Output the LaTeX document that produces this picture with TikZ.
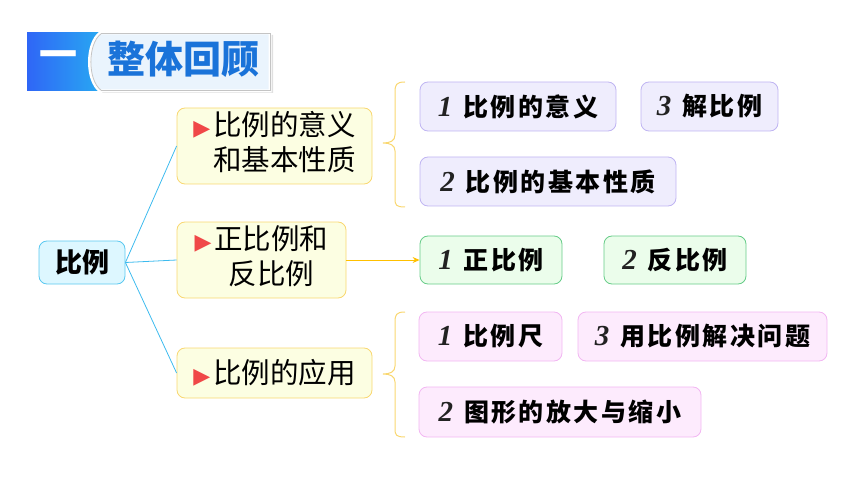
\documentclass[tikz,border=0pt]{standalone}
\usepackage{fontspec}
\newfontfamily\cjk{Noto Sans CJK SC}
\newfontfamily\cjkls[LetterSpace=10]{Noto Sans CJK SC}
\newfontfamily\numfont{Liberation Serif}
\newfontfamily\symfont{DejaVu Sans}
\usetikzlibrary{arrows.meta}
\definecolor{hdrA}{HTML}{2F66F6}
\definecolor{hdrB}{HTML}{28AAF2}
\definecolor{panelfill}{HTML}{EAF4FD}
\definecolor{panelline}{HTML}{C4C4C4}
\definecolor{titleblue}{HTML}{1A73D9}
\definecolor{rootfill}{HTML}{DDF7FF}
\definecolor{rootline}{HTML}{5BC8F0}
\definecolor{yfill}{HTML}{FCFEE2}
\definecolor{yline}{HTML}{F9D770}
\definecolor{linkblue}{HTML}{3DBBEE}
\definecolor{arrowor}{HTML}{FFC000}
\definecolor{pfill}{HTML}{EFEDFD}
\definecolor{pline}{HTML}{BFB4F2}
\definecolor{gfill}{HTML}{EBFDEB}
\definecolor{gline}{HTML}{66CC88}
\definecolor{kfill}{HTML}{FDEBFD}
\definecolor{kline}{HTML}{F2B6F2}
\definecolor{trired}{HTML}{F04848}
\definecolor{numcol}{HTML}{222222}
\newcommand\nm[1]{{\numfont\bfseries\itshape\fontsize{29}{29}\selectfont\color{numcol}#1}\hspace{11pt}}
\newcommand\tri{{\symfont\fontsize{22}{22}\selectfont\color{trired}▶}\hspace{3pt}}
\begin{document}
\begin{tikzpicture}[x=1pt,y=-1pt,
  box/.style={rounded corners=8, line width=0.8, inner sep=0, anchor=center, text=black},
  leaf/.style={box, minimum height=49, font=\cjkls\bfseries\fontsize{25}{25}\selectfont},
  pbox/.style={leaf, fill=pfill, draw=pline},
  gbox/.style={leaf, fill=gfill, draw=gline},
  kbox/.style={leaf, fill=kfill, draw=kline},
  ybox/.style={box, fill=yfill, draw=yline, align=center, font=\cjk\fontsize{28.5}{35}\selectfont},
  link/.style={draw=linkblue, line width=0.8},
  brace/.style={draw=yline, line width=1}
]
\useasboundingbox (0,0) rectangle (860,484);
% header
\shade[left color=hdrA, right color=hdrB] (27,33) rectangle (102,91);
\fill[black!12] (103,35) -- (273,35) -- (273,93) -- (103,93) .. controls (89,82) and (89,46) .. (103,35) -- cycle;
\path[fill=panelfill, draw=white, line width=3] (100,33) -- (270,33) -- (270,91) -- (100,91) .. controls (86,80) and (86,44) .. (100,33) -- cycle;
\draw[panelline, line width=0.8] (101,33.8) -- (270,33.8) -- (270,90.2) -- (101,90.2);
\draw[panelline, line width=0.8] (101,90.2) .. controls (87.5,80) and (87.5,44) .. (101,33.8);
\node[text=white, font=\cjk\bfseries\fontsize{38}{38}\selectfont, inner sep=0] (one) at (58,60) {一};
\node[text=titleblue, font=\cjk\bfseries\fontsize{38}{38}\selectfont, inner sep=0] (title) at (183,59) {整体回顾};
% root
\node[box, fill=rootfill, draw=rootline, minimum width=86, minimum height=43, font=\cjk\bfseries\fontsize{27}{27}\selectfont] (root) at (82,262.5) {比例};
% level 1
\node[ybox, minimum width=195, minimum height=76] (a) at (274.5,146) {\tri\begin{tabular}[t]{@{}l@{}}比例的意义\\和基本性质\end{tabular}};
\node[ybox, minimum width=169, minimum height=76] (b) at (261.5,260) {\tri\begin{tabular}[t]{@{}c@{}}正比例和\\反比例\end{tabular}};
\node[ybox, minimum width=195, minimum height=50] (c) at (274.5,373) {\tri 比例的应用};
\draw[link] (root.east) -- (a.west);
\draw[link] (root.east) -- (b.west);
\draw[link] (root.east) -- (c.west);
% leaves
\node[pbox, minimum width=196] (p1) at (518,106.5) {\nm{1}比例的意义};
\node[pbox, minimum width=137] (p3) at (709.5,106.5) {\nm{3}解比例};
\node[pbox, minimum width=256] (p2) at (548,181.5) {\nm{2}比例的基本性质};
\node[gbox, minimum width=142, minimum height=48] (g1) at (491,260) {\nm{1}正比例};
\node[gbox, minimum width=142, minimum height=48] (g2) at (675,260) {\nm{2}反比例};
\node[kbox, minimum width=143] (k1) at (490.5,336.5) {\nm{1}比例尺};
\node[kbox, minimum width=249] (k3) at (702.5,336.5) {\nm{3}用比例解决问题};
\node[kbox, minimum width=282, minimum height=50] (k2) at (560,412) {\nm{2}图形的放大与缩小};
\draw[draw=arrowor, line width=0.9, -{Stealth[length=7pt,width=6pt]}] (b.east) -- (g1.west);
% braces
\coordinate (bt1) at (405,82); \coordinate (tip1) at (383,143); \coordinate (bb1) at (405,207);
\draw[brace] (bt1) .. controls (396,82) and (395,85) .. (395,92) -- (395,135) .. controls (395,141) and (390,143) .. (tip1) .. controls (390,143) and (395,145) .. (395,151) -- (395,199) .. controls (395,205) and (396,207) .. (bb1);
\coordinate (bt2) at (405,312); \coordinate (tip2) at (383,374); \coordinate (bb2) at (405,437);
\draw[brace] (bt2) .. controls (396,312) and (395,315) .. (395,322) -- (395,366) .. controls (395,372) and (390,374) .. (tip2) .. controls (390,374) and (395,376) .. (395,382) -- (395,429) .. controls (395,435) and (396,437) .. (bb2);
\end{tikzpicture}
\end{document}
